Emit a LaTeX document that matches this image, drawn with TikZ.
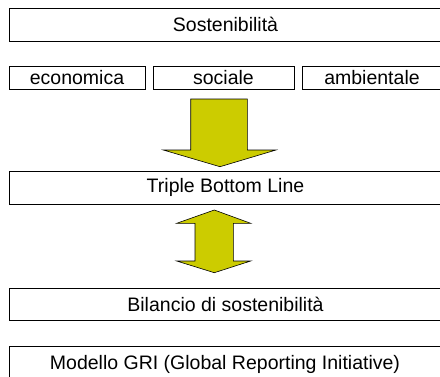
\documentclass[tikz,border=0pt]{standalone}
\usepackage{fontspec}
\setmainfont{Liberation Sans}
\begin{document}
\begin{tikzpicture}[x=1pt,y=1pt,
  box/.style={draw=black,line width=1pt,fill=white,inner sep=0pt,font=\fontsize{19.5}{23}\selectfont},
  blockarrow/.style={draw=black,line width=0.6pt,fill=arrowfill,line join=miter}]
\definecolor{arrowfill}{RGB}{204,204,0}
\useasboundingbox (0,0) rectangle (440,-376);
\clip (0,0) rectangle (440,-376);
% boxes
\node[box,minimum width=433pt,minimum height=33pt] (sost) at (225.5,-24.5) {Sostenibilità};
\node[box,minimum width=136pt,minimum height=23pt] (econ) at (77,-77.5) {economica};
\node[box,minimum width=141pt,minimum height=23pt] (soc) at (223.5,-77.5) {sociale};
\node[box,minimum width=140pt,minimum height=23pt] (amb) at (372,-77.5) {ambientale};
\node[box,minimum width=433pt,minimum height=33pt] (tbl) at (225.5,-187.5) {Triple Bottom Line};
\node[box,minimum width=433pt,minimum height=32pt] (bil) at (225.5,-304) {Bilancio di sostenibilità};
\node[box,minimum width=433pt,minimum height=44pt] (gri) at (225.5,-368) {};
\node[font=\fontsize{19.5}{23}\selectfont] (gritext) at (225,-364) {Modello GRI (Global Reporting Initiative)};
% down arrow
\draw[blockarrow] (190.7,-99) -- (247.3,-99) -- (247.3,-150) -- (276,-150) -- (220,-166.7)
  -- (163.3,-150) -- (190.7,-150) -- cycle;
% double arrow
\draw[blockarrow] (214.3,-210) -- (250.7,-223.3) -- (233.3,-223.3) -- (233.3,-261) -- (250.7,-261)
  -- (214.3,-272.7) -- (176.7,-261) -- (195,-261) -- (195,-223.3) -- (176.7,-223.3) -- cycle;
\end{tikzpicture}
\end{document}
